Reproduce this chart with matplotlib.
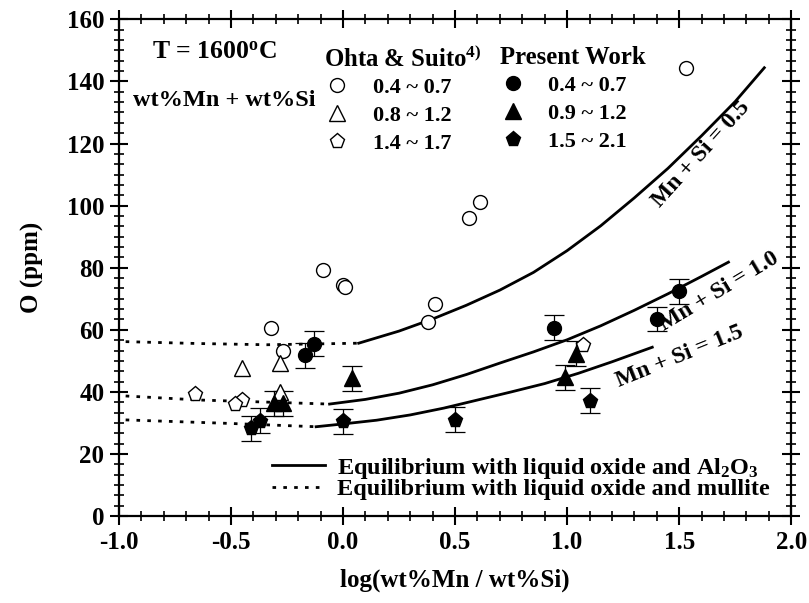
import matplotlib
matplotlib.use("Agg")
import matplotlib.pyplot as plt
from matplotlib.ticker import MultipleLocator, FormatStrFormatter

plt.rcParams['font.family'] = ['Liberation Serif', 'DejaVu Serif']
plt.rcParams['font.weight'] = 'bold'
plt.rcParams['axes.labelweight'] = 'bold'
plt.rcParams['font.size'] = 16
plt.rcParams['axes.unicode_minus'] = False
plt.rcParams['mathtext.fontset'] = 'custom'
plt.rcParams['mathtext.rm'] = 'Liberation Serif:bold'
plt.rcParams['mathtext.it'] = 'Liberation Serif:bold'
plt.rcParams['mathtext.bf'] = 'Liberation Serif:bold'

# Ohta & Suito (open symbols)
os_c_x = [-0.32, -0.27, -0.09, 0.00, 0.01, 0.38, 0.41, 0.56, 0.61, 1.53]
os_c_y = [60.7, 53.3, 79.4, 74.5, 73.8, 62.6, 68.4, 96.0, 101.1, 144.4]
os_t_x = [-0.45, -0.28, -0.28]
os_t_y = [47.6, 49.3, 39.9]
os_p_x = [-0.66, -0.45, -0.48, 1.07]
os_p_y = [39.4, 37.4, 36.0, 55.2]

# Present work (filled symbols, with error bars)
pw_c_x = [-0.17, -0.13, 0.94, 1.40, 1.50]
pw_c_y = [51.8, 55.5, 60.7, 63.5, 72.4]
pw_t_x = [-0.31, -0.27, 0.04, 0.99, 1.04]
pw_t_y = [36.4, 36.4, 44.4, 44.7, 52.3]
pw_p_x = [-0.41, -0.37, 0.00, 0.50, 1.10]
pw_p_y = [28.3, 30.7, 30.5, 31.0, 37.2]
pw_err = 4.0

# equilibrium with liquid oxide and Al2O3 (solid)
s05_x = [0.07, 0.25, 0.40, 0.55, 0.70, 0.85, 1.00, 1.15, 1.30, 1.45, 1.60, 1.75, 1.88]
s05_y = [55.7, 59.6, 63.5, 67.9, 72.8, 78.5, 85.5, 93.5, 102.5, 112.0, 122.5, 133.5, 144.4]
s10_x = [-0.06, 0.10, 0.25, 0.40, 0.55, 0.70, 0.85, 1.00, 1.15, 1.30, 1.45, 1.60, 1.72]
s10_y = [36.1, 37.6, 39.6, 42.3, 45.6, 49.3, 52.9, 56.8, 61.3, 66.3, 71.6, 77.2, 81.8]
s15_x = [-0.12, 0.00, 0.15, 0.30, 0.45, 0.60, 0.75, 0.90, 1.05, 1.20, 1.38]
s15_y = [28.8, 29.7, 30.9, 32.6, 34.8, 37.4, 40.0, 42.7, 46.0, 49.7, 54.4]

# equilibrium with liquid oxide and mullite (dotted)
d05_x = [-0.97, -0.65, -0.34, 0.07]
d05_y = [56.2, 55.6, 55.2, 55.7]
d10_x = [-0.97, -0.64, -0.06]
d10_y = [38.7, 37.4, 36.1]
d15_x = [-0.97, -0.52, -0.12]
d15_y = [31.0, 29.9, 28.8]

fig = plt.figure(figsize=(8.09, 6.03), dpi=100)
ax = fig.add_axes([0.147, 0.144, 0.831, 0.824])

lw = 2.0
dots = (0, (1.3, 2.6))
ax.plot(s05_x, s05_y, 'k-', lw=lw)
ax.plot(s10_x, s10_y, 'k-', lw=lw)
ax.plot(s15_x, s15_y, 'k-', lw=lw)
ax.plot(d05_x, d05_y, color='k', ls=dots, lw=lw)
ax.plot(d10_x, d10_y, color='k', ls=dots, lw=lw)
ax.plot(d15_x, d15_y, color='k', ls=dots, lw=lw)

for xs, ys in [(pw_c_x, pw_c_y), (pw_t_x, pw_t_y), (pw_p_x, pw_p_y)]:
    ax.errorbar(xs, ys, yerr=pw_err, fmt='none', ecolor='k', elinewidth=0.9,
                capsize=7, capthick=0.9)

ms = 10
h1, = ax.plot(os_c_x, os_c_y, 'o', ms=ms, mfc='white', mec='k', mew=1.0, ls='none')
h2, = ax.plot(os_t_x, os_t_y, '^', ms=ms + 1, mfc='white', mec='k', mew=1.0, ls='none')
h3, = ax.plot(os_p_x, os_p_y, 'p', ms=ms + 1, mfc='white', mec='k', mew=1.0, ls='none')
h4, = ax.plot(pw_c_x, pw_c_y, 'o', ms=ms, mfc='k', mec='k', ls='none')
h5, = ax.plot(pw_t_x, pw_t_y, '^', ms=ms + 1, mfc='k', mec='k', ls='none')
h6, = ax.plot(pw_p_x, pw_p_y, 'p', ms=ms + 1, mfc='k', mec='k', ls='none')

ax.set_xlim(-1.0, 2.0)
ax.set_ylim(0, 160)
ax.xaxis.set_major_locator(MultipleLocator(0.5))
ax.xaxis.set_minor_locator(MultipleLocator(0.1))
ax.yaxis.set_major_locator(MultipleLocator(20))
ax.yaxis.set_minor_locator(MultipleLocator(20 / 6))
ax.xaxis.set_major_formatter(FormatStrFormatter('%.1f'))
ax.tick_params(which='both', direction='inout', top=True, right=True,
               labeltop=False, labelright=False, labelsize=18)
ax.tick_params(which='major', length=13, width=1.5, pad=4)
ax.tick_params(which='minor', length=7, width=1.2)
for sp in ax.spines.values():
    sp.set_linewidth(1.6)

ax.set_xlabel('log(wt%Mn / wt%Si)', fontsize=18, labelpad=11)
ax.set_ylabel('O (ppm)', fontsize=18, labelpad=16)

ax.text(0.049, 0.934, 'T = 1600$^{\\mathrm{o}}$C', transform=ax.transAxes,
        fontsize=18.5, va='center')
ax.text(0.021, 0.837, 'wt%Mn + wt%Si', transform=ax.transAxes,
        fontsize=17.5, va='center')

leg1 = ax.legend([h1, h2, h3], ['0.4 ~ 0.7', '0.8 ~ 1.2', '1.4 ~ 1.7'],
                 title='Ohta & Suito$^{4)}$', alignment='left',
                 loc='upper left', bbox_to_anchor=(0.292, 0.965),
                 frameon=False, handlelength=1.2, handletextpad=1.0,
                 labelspacing=0.32, borderaxespad=0,
                 title_fontproperties={'size': 17.8, 'weight': 'bold'})
ax.add_artist(leg1)
leg2 = ax.legend([h4, h5, h6], ['0.4 ~ 0.7', '0.9 ~ 1.2', '1.5 ~ 2.1'],
                 title='Present Work', alignment='left',
                 loc='upper left', bbox_to_anchor=(0.553, 0.965),
                 frameon=False, handlelength=1.2, handletextpad=1.0,
                 labelspacing=0.32, borderaxespad=0,
                 title_fontproperties={'size': 17.8, 'weight': 'bold'})
ax.add_artist(leg2)

ls1 = plt.Line2D([], [], color='k', lw=lw)
ls2 = plt.Line2D([], [], color='k', lw=lw, ls=dots)
ax.legend([ls1, ls2], ['Equilibrium with liquid oxide and Al$_2$O$_3$',
                       'Equilibrium with liquid oxide and mullite'],
          loc='lower left', bbox_to_anchor=(0.213, 0.012), frameon=False,
          fontsize=17.5, handlelength=2.2, handletextpad=0.5,
          labelspacing=-0.1, borderaxespad=0)

ax.text(1.60, 116.5, 'Mn + Si = 0.5', rotation=48, ha='center', va='center',
        fontsize=17)
ax.text(1.68, 72.3, 'Mn + Si = 1.0', rotation=31, ha='center', va='center',
        fontsize=17)
ax.text(1.50, 51.3, 'Mn + Si = 1.5', rotation=22, ha='center', va='center',
        fontsize=17)

fig.savefig('out.png', dpi=100)
